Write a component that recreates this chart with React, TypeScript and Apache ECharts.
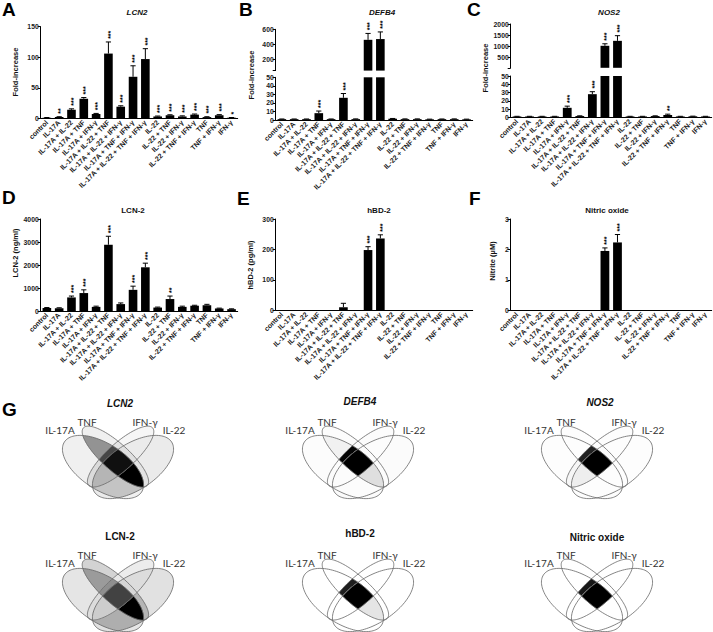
import React, { useEffect, useRef } from 'react';
import * as echarts from 'echarts';

const FONT = '"Liberation Sans", Arial, sans-serif';
const VENN_FONT = 'Lato, "DejaVu Sans", sans-serif';

const categories = [
  'control', 'IL-17A', 'IL-17A + IL-22', 'IL-17A + TNF', 'IL-17A + IFN-γ',
  'IL-17A + IL-22 + TNF', 'IL-17A + IL-22 + IFN-γ', 'IL-17A + TNF + IFN-γ',
  'IL-17A + IL-22 + TNF + IFN-γ', 'IL-22', 'IL-22 + TNF', 'IL-22 + IFN-γ',
  'IL-22 + TNF + IFN-γ', 'TNF', 'TNF + IFN-γ', 'IFN-γ',
];
const vennSets = ['IL-17A', 'TNF', 'IFN-γ', 'IL-22'];

// A – LCN2 mRNA
const lcn2FoldMean = [1, 2, 14, 32, 7, 106, 19, 68, 97, 3, 5, 3, 6, 2, 5, 1];
const lcn2FoldErr = [1.3, 2.6, 15.5, 34, 8, 125, 20.5, 86, 114, 3.7, 5.8, 4, 7, 2.6, 6, 1.3];
const lcn2FoldStars = ['', '**', '***', '***', '***', '***', '***', '***', '***', '***', '***', '***', '***', '***', '***', '*'];
const lcn2FoldTicks = [0, 50, 100, 150];

// B – DEFB4 mRNA
const defb4Mean = [1, 1, 1, 8, 1, 26, 1, 460, 470, 1.5, 1, 1, 0.8, 1, 1, 0.8];
const defb4Err = [1.2, 1.2, 1.2, 10.5, 1.2, 31, 1.3, 545, 565, 1.8, 1.3, 1.3, 1, 1.2, 1.3, 1];
const defb4Stars = ['', '', '', '***', '', '***', '', '***', '***', '', '', '', '', '', '', ''];
const defb4LowTicks = [0, 10, 20, 30, 40, 50];
const defb4HighTicks = [200, 400, 600];

// C – NOS2 mRNA
const nos2Mean = [1, 1, 1, 1, 11.5, 1.5, 28, 1030, 1250, 1, 1, 1.5, 2.8, 1, 1.2, 1];
const nos2Err = [1.2, 1.2, 1.2, 1.2, 13.5, 1.8, 31, 1120, 1480, 1.2, 1.2, 1.8, 3.8, 1.2, 1.4, 1.2];
const nos2Stars = ['', '', '', '', '***', '', '***', '***', '***', '', '', '', '**', '', '', ''];
const nos2LowTicks = [0, 10, 20, 30, 40, 50];
const nos2HighTicks = [500, 1000, 1500, 2000];

// D – LCN-2 protein
const lcn2ProtMean = [130, 120, 590, 780, 180, 2880, 300, 920, 1900, 150, 520, 180, 230, 250, 110, 80];
const lcn2ProtErr = [150, 140, 650, 920, 210, 3250, 350, 1080, 2080, 170, 650, 210, 250, 290, 125, 95];
const lcn2ProtStars = ['', '', '***', '***', '', '***', '', '***', '***', '', '**', '', '', '', '', ''];
const lcn2ProtTicks = [0, 1000, 2000, 3000, 4000];

// E – hBD-2 protein
const hbd2Mean = [0, 0, 0, 0, 0, 10, 0, 198, 236, 0, 0, 0, 0, 0, 0, 0];
const hbd2Err = [0, 0, 0, 0, 0, 23, 0, 209, 248, 0, 0, 0, 0, 0, 0, 0];
const hbd2Stars = ['', '', '', '', '', '', '', '***', '***', '', '', '', '', '', '', ''];
const hbd2Ticks = [0, 100, 200, 300];

// F – Nitrite
const nitriteMean = [0, 0, 0, 0, 0, 0, 0, 1.95, 2.23, 0, 0, 0, 0, 0, 0, 0];
const nitriteErr = [0, 0, 0, 0, 0, 0, 0, 2.05, 2.49, 0, 0, 0, 0, 0, 0, 0];
const nitriteStars = ['', '', '', '', '', '', '', '***', '***', '', '', '', '', '', '', ''];
const nitriteTicks = [0, 1, 2, 3];

type Seg = { ticks: number[]; top: number; bottom: number };
type Panel = {
  mean: number[]; err: number[]; stars: string[];
  left: number; width: number; segs: Seg[];
  title: string; italic: boolean; tx: number; ty: number;
  yName: string; nx: number; ny: number;
  letter: string; lx: number; ly: number;
  venn: { x: number; y: number; tx: number; ty: number };
};

const PANELS: Panel[] = [
  {
    mean: lcn2FoldMean, err: lcn2FoldErr, stars: lcn2FoldStars, left: 40.7, width: 197,
    segs: [{ ticks: lcn2FoldTicks, top: 26.7, bottom: 118.3 }],
    title: 'LCN2', italic: true, tx: 137, ty: 12.5, yName: 'Fold-increase', nx: 15, ny: 72,
    letter: 'A', lx: 2, ly: 9, venn: { x: 118, y: 395, tx: 120, ty: 403 },
  },
  {
    mean: defb4Mean, err: defb4Err, stars: defb4Stars, left: 275.7, width: 197,
    segs: [{ ticks: defb4LowTicks, top: 77.3, bottom: 120 }, { ticks: defb4HighTicks, top: 29.3, bottom: 70.6 }],
    title: 'DEFB4', italic: true, tx: 382, ty: 12.5, yName: 'Fold-increase', nx: 251, ny: 75,
    letter: 'B', lx: 239, ly: 9, venn: { x: 358, y: 395, tx: 360, ty: 401 },
  },
  {
    mean: nos2Mean, err: nos2Err, stars: nos2Stars, left: 510.7, width: 201,
    segs: [{ ticks: nos2LowTicks, top: 76, bottom: 117.3 }, { ticks: nos2HighTicks, top: 24, bottom: 67.8 }],
    title: 'NOS2', italic: true, tx: 609, ty: 12.5, yName: 'Fold-increase', nx: 485, ny: 68,
    letter: 'C', lx: 467, ly: 9, venn: { x: 597, y: 395, tx: 600, ty: 402 },
  },
  {
    mean: lcn2ProtMean, err: lcn2ProtErr, stars: lcn2ProtStars, left: 40.7, width: 197,
    segs: [{ ticks: lcn2ProtTicks, top: 219, bottom: 311 }],
    title: 'LCN-2', italic: false, tx: 133, ty: 210, yName: 'LCN-2 (ng/ml)', nx: 15, ny: 253,
    letter: 'D', lx: 2, ly: 197, venn: { x: 118, y: 528, tx: 120, ty: 536 },
  },
  {
    mean: hbd2Mean, err: hbd2Err, stars: hbd2Stars, left: 275.7, width: 197,
    segs: [{ ticks: hbd2Ticks, top: 219, bottom: 310.3 }],
    title: 'hBD-2', italic: false, tx: 379, ty: 210, yName: 'hBD-2 (pg/ml)', nx: 250, ny: 265,
    letter: 'E', lx: 237, ly: 198, venn: { x: 358, y: 528, tx: 360, ty: 533 },
  },
  {
    mean: nitriteMean, err: nitriteErr, stars: nitriteStars, left: 510.7, width: 201,
    segs: [{ ticks: nitriteTicks, top: 219, bottom: 310.3 }],
    title: 'Nitric oxide', italic: false, tx: 607, ty: 210, yName: 'Nitrite (µM)', nx: 492, ny: 261,
    letter: 'F', lx: 469, ly: 198, venn: { x: 597, y: 528, tx: 597, ty: 537 },
  },
];

// Venn ellipse geometry (left-hand pair; right-hand pair is mirrored)
const VENN_OUTER = { cx: -15, cy: 72, a: 46, b: 23, ang: 33 };
const VENN_INNER = { cx: -2.6, cy: 61.6, a: 43, b: 13.5, ang: 42 };

function ellipsePts(cx: number, cy: number, a: number, b: number, angDeg: number, n = 120) {
  const t = (angDeg * Math.PI) / 180;
  const ux = Math.cos(t), uy = Math.sin(t), vx = -uy, vy = ux;
  const pts: number[][] = [];
  for (let k = 0; k < n; k++) {
    const th = (2 * Math.PI * k) / n;
    const c = Math.cos(th) * a, s = Math.sin(th) * b;
    pts.push([cx + c * ux + s * vx, cy + c * uy + s * vy]);
  }
  return pts;
}

function polyArea(p: number[][]) {
  let s = 0;
  for (let i = 0; i < p.length; i++) {
    const a = p[i], b = p[(i + 1) % p.length];
    s += a[0] * b[1] - b[0] * a[1];
  }
  return s / 2;
}

function lineX(p: number[], q: number[], a: number[], b: number[]) {
  const d1x = q[0] - p[0], d1y = q[1] - p[1];
  const d2x = b[0] - a[0], d2y = b[1] - a[1];
  const den = d1x * d2y - d1y * d2x;
  if (Math.abs(den) < 1e-12) return q;
  const t = ((a[0] - p[0]) * d2y - (a[1] - p[1]) * d2x) / den;
  return [p[0] + t * d1x, p[1] + t * d1y];
}

function clipPoly(subject: number[][], clip: number[][]) {
  let out = subject;
  const orient = polyArea(clip) > 0 ? 1 : -1;
  for (let i = 0; i < clip.length && out.length; i++) {
    const a = clip[i], b = clip[(i + 1) % clip.length];
    const inside = (p: number[]) => orient * ((b[0] - a[0]) * (p[1] - a[1]) - (b[1] - a[1]) * (p[0] - a[0])) >= 0;
    const inp = out;
    out = [];
    for (let j = 0; j < inp.length; j++) {
      const cur = inp[j], prev = inp[(j + inp.length - 1) % inp.length];
      const ci = inside(cur), pi = inside(prev);
      if (ci) {
        if (!pi) out.push(lineX(prev, cur, a, b));
        out.push(cur);
      } else if (pi) out.push(lineX(prev, cur, a, b));
    }
  }
  return out;
}

function maskOf(name: string) {
  if (name === 'control') return 0;
  return name.split(' + ').reduce((m, s) => m | (1 << vennSets.indexOf(s)), 0);
}

function vennElements(p: Panel) {
  const { x: X0, y: Y0 } = p.venn;
  const ells = [
    ellipsePts(X0 + VENN_OUTER.cx, Y0 + VENN_OUTER.cy, VENN_OUTER.a, VENN_OUTER.b, VENN_OUTER.ang),
    ellipsePts(X0 + VENN_INNER.cx, Y0 + VENN_INNER.cy, VENN_INNER.a, VENN_INNER.b, VENN_INNER.ang),
    ellipsePts(X0 - VENN_INNER.cx, Y0 + VENN_INNER.cy, VENN_INNER.a, VENN_INNER.b, -VENN_INNER.ang),
    ellipsePts(X0 - VENN_OUTER.cx, Y0 + VENN_OUTER.cy, VENN_OUTER.a, VENN_OUTER.b, -VENN_OUTER.ang),
  ];
  const maxV = Math.max(...p.mean);
  const els: any[] = [];
  const masks: number[] = [];
  for (let m = 1; m < 16; m++) masks.push(m);
  const bits = (m: number) => [0, 1, 2, 3].filter((k) => m & (1 << k)).length;
  masks.sort((a, b) => bits(a) - bits(b));
  masks.forEach((m) => {
    const idx = categories.findIndex((c) => maskOf(c) === m);
    const v = idx >= 0 ? Math.max(0, p.mean[idx]) : 0;
    const g = Math.round(255 * (1 - Math.pow(maxV > 0 ? v / maxV : 0, 0.72)));
    let poly: number[][] | null = null;
    [0, 1, 2, 3].forEach((k) => {
      if (m & (1 << k)) poly = poly ? clipPoly(poly, ells[k]) : ells[k];
    });
    if (poly && (poly as number[][]).length > 2) {
      els.push({ type: 'polygon', silent: true, shape: { points: poly }, style: { fill: `rgb(${g},${g},${g})`, stroke: `rgb(${g},${g},${g})`, lineWidth: 0.3 } });
    }
  });
  ells.forEach((e) => {
    els.push({ type: 'polygon', silent: true, shape: { points: e }, style: { fill: 'none', stroke: '#666', lineWidth: 0.8 } });
  });
  const lab = (t: string, dx: number, dy: number) => ({
    type: 'text', silent: true, x: X0 + dx, y: Y0 + dy,
    style: { text: t, fill: '#333', fontSize: 10, fontFamily: VENN_FONT, textAlign: 'center', textVerticalAlign: 'middle', align: 'center', verticalAlign: 'middle' },
  });
  els.push(lab(vennSets[0], -58, 35), lab(vennSets[1], -31, 26.7), lab(vennSets[2], 27, 26.7), lab(vennSets[3], 56, 35));
  els.push({
    type: 'text', silent: true, x: p.venn.tx, y: p.venn.ty,
    style: { text: p.title, fill: '#111', fontSize: 10, fontWeight: 'bold', fontStyle: p.italic ? 'italic' : 'normal', fontFamily: FONT, textAlign: 'center', textVerticalAlign: 'middle', align: 'center', verticalAlign: 'middle' },
  });
  return els;
}

function buildOption() {
  const grid: any[] = [], xAxis: any[] = [], yAxis: any[] = [], series: any[] = [], elements: any[] = [];
  let k = 0;
  PANELS.forEach((p) => {
    p.segs.forEach((s, si) => {
      const isLow = si === 0;
      const prev = si > 0 ? p.segs[si - 1].ticks : null;
      const min = isLow ? s.ticks[0] : (prev as number[])[(prev as number[]).length - 1];
      const max = s.ticks[s.ticks.length - 1];
      grid.push({ left: p.left, top: s.top, width: p.width, height: s.bottom - s.top });
      xAxis.push({
        type: 'category', gridIndex: k, data: categories, show: isLow,
        axisLine: { lineStyle: { color: '#000', width: 1 } },
        axisTick: { alignWithLabel: true, length: 2.5, lineStyle: { color: '#000' } },
        axisLabel: { interval: 0, rotate: 45, fontSize: 7, fontWeight: 'bold', color: '#1a1a1a', fontFamily: FONT, margin: 3 },
      });
      const yA: any = {
        type: 'value', gridIndex: k, min, max, splitLine: { show: false },
        axisLine: { show: true, lineStyle: { color: '#000', width: 1 } },
        axisTick: { show: true, length: 3, lineStyle: { color: '#000' } },
        axisLabel: { fontSize: 6.8, fontWeight: 'bold', color: '#1a1a1a', fontFamily: FONT, margin: 2, formatter: (v: number) => String(v) },
      };
      if (isLow) yA.interval = s.ticks[1] - s.ticks[0];
      else {
        yA.axisLabel.customValues = s.ticks;
        yA.axisTick.customValues = [min, ...s.ticks];
      }
      yAxis.push(yA);
      series.push({
        type: 'bar', xAxisIndex: k, yAxisIndex: k, silent: true, clip: true,
        data: p.mean.map((v) => (isLow || v > min ? v : '-')),
        barWidth: '70%', itemStyle: { color: '#000' },
      });
      series.push({
        type: 'custom', xAxisIndex: k, yAxisIndex: k, silent: true, clip: false,
        data: p.mean.map((v, i) => [i, v]), encode: { x: 0, y: 1 },
        renderItem: (params: any, api: any) => {
          const i = params.dataIndex;
          const m = p.mean[i], e = p.err[i];
          if (!(e > m) || e <= min || e > max) return null;
          const base = api.coord([i, Math.max(m, min)]);
          const tip = api.coord([i, e]);
          const x = tip[0];
          const children: any[] = [
            { type: 'line', shape: { x1: x, y1: base[1], x2: x, y2: tip[1] }, style: { stroke: '#000', lineWidth: 1 } },
            { type: 'line', shape: { x1: x - 2.6, y1: tip[1], x2: x + 2.6, y2: tip[1] }, style: { stroke: '#000', lineWidth: 1 } },
          ];
          const st = p.stars[i];
          if (st) {
            children.push({
              type: 'text', x: x + 1.8, y: tip[1] - 3 - st.length * 1.4, rotation: Math.PI / 2,
              style: { text: st, fill: '#000', fontSize: 7, fontWeight: 'bold', fontFamily: FONT, textAlign: 'center', textVerticalAlign: 'middle', align: 'center', verticalAlign: 'middle' },
            });
          }
          return { type: 'group', children };
        },
      });
      k++;
    });
    elements.push({
      type: 'text', silent: true, x: p.lx, y: p.ly,
      style: { text: p.letter, fill: '#000', fontSize: 19, fontWeight: 'bold', fontFamily: FONT, textAlign: 'left', textVerticalAlign: 'middle', align: 'left', verticalAlign: 'middle' },
    });
    elements.push({
      type: 'text', silent: true, x: p.tx, y: p.ty,
      style: { text: p.title, fill: '#111', fontSize: 8, fontWeight: 'bold', fontStyle: p.italic ? 'italic' : 'normal', fontFamily: FONT, textAlign: 'center', textVerticalAlign: 'middle', align: 'center', verticalAlign: 'middle' },
    });
    elements.push({
      type: 'text', silent: true, x: p.nx, y: p.ny, rotation: Math.PI / 2,
      style: { text: p.yName, fill: '#111', fontSize: 7.5, fontWeight: 'bold', fontFamily: FONT, textAlign: 'center', textVerticalAlign: 'middle', align: 'center', verticalAlign: 'middle' },
    });
    elements.push(...vennElements(p));
  });
  elements.push({
    type: 'text', silent: true, x: 2, y: 409,
    style: { text: 'G', fill: '#000', fontSize: 19, fontWeight: 'bold', fontFamily: FONT, textAlign: 'left', textVerticalAlign: 'middle', align: 'left', verticalAlign: 'middle' },
  });
  return {
    animation: false,
    backgroundColor: '#fff',
    textStyle: { fontFamily: FONT },
    grid, xAxis, yAxis, series,
    graphic: { elements },
  };
}

export default function App() {
  const ref = useRef<HTMLDivElement>(null);
  useEffect(() => {
    document.body.style.margin = '0';
    if (!ref.current) return;
    const chart = echarts.init(ref.current, undefined, { renderer: 'svg' });
    chart.setOption(buildOption() as any);
    return () => chart.dispose();
  }, []);
  return <div ref={ref} style={{ width: 713, height: 632 }} />;
}
